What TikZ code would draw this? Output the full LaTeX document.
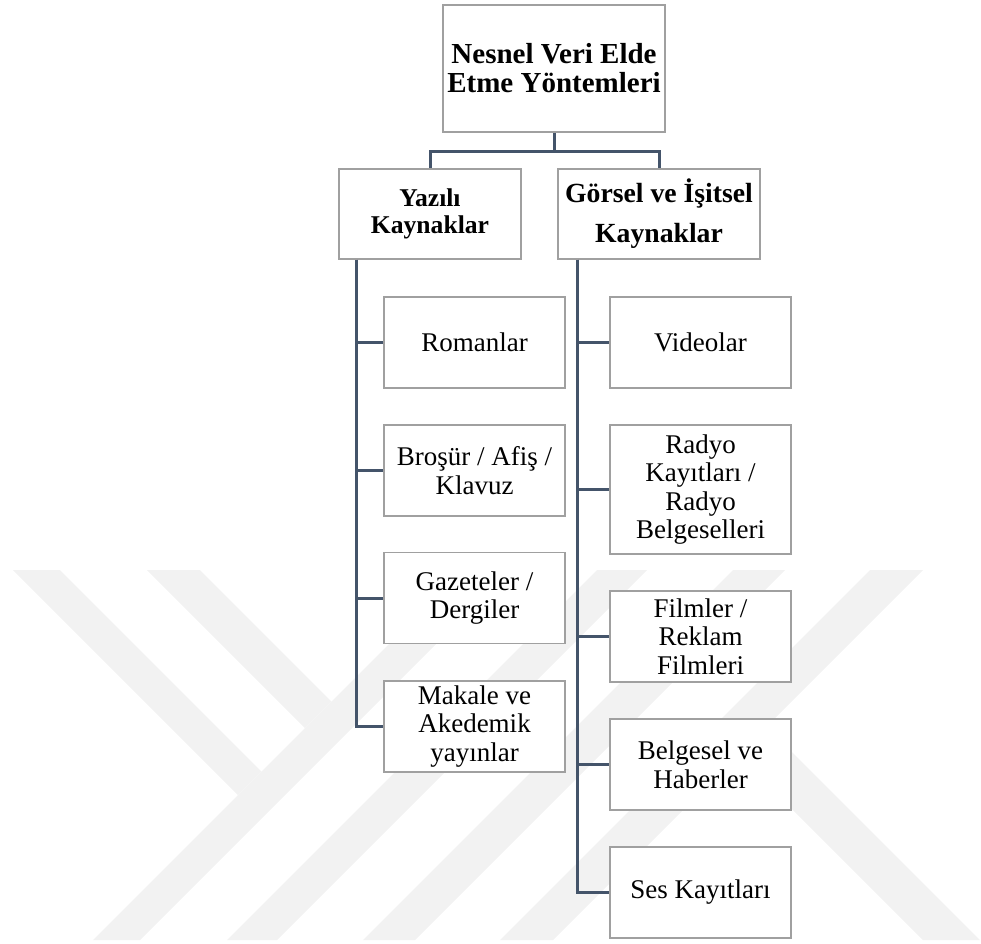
\documentclass[tikz,border=0pt]{standalone}
\usepackage{fontspec}
\setmainfont{Liberation Serif}
\definecolor{wmgray}{RGB}{242,242,242}
\definecolor{boxline}{RGB}{160,160,160}
\definecolor{connline}{RGB}{68,84,106}
\begin{document}
\begin{tikzpicture}[x=1pt,y=-1pt,
  box/.style={draw=boxline, line width=1.5pt, fill=white, inner sep=0pt, align=center,
    minimum width=181pt, minimum height=91pt, font=\fontsize{27}{28.5}\selectfont},
  conn/.style={draw=connline, line width=3pt},
  wm/.style={fill=wmgray}]
\useasboundingbox (0,0) rectangle (981,943);
% watermark
\fill[wm] (13,570) -- (60,570) -- (261.5,771.5) -- (238,795) -- cycle;
\fill[wm] (147,570) -- (200,570) -- (331.5,701.5) -- (305,728) -- cycle;
\fill[wm] (93,940) -- (140,940) -- (510,570) -- (463,570) -- cycle;
\fill[wm] (227,940) -- (277,940) -- (647,570) -- (597,570) -- cycle;
\fill[wm] (363,940) -- (415,940) -- (785,570) -- (733,570) -- cycle;
\fill[wm] (500,940) -- (553,940) -- (923,570) -- (870,570) -- cycle;
\fill[wm] (738,755) -- (766.5,726.5) -- (980,940) -- (923,940) -- cycle;
% nodes
\node[box, minimum width=222pt, minimum height=127pt,
  font=\bfseries\fontsize{29}{29}\selectfont] (top) at (554,68.5) {Nesnel Veri Elde\\Etme Yöntemleri};
\node[box, minimum width=182pt, minimum height=90pt,
  font=\bfseries\fontsize{25.6}{27.3}\selectfont] (yaz) at (430,214) {Yazılı\\Kaynaklar};
\node[box, minimum width=202pt, minimum height=90pt,
  font=\bfseries\fontsize{27.7}{40}\selectfont] (gor) at (659,214) {Görsel ve İşitsel\\Kaynaklar};
\node[box] (rom) at (474.5,342.5) {Romanlar};
\node[box] (bro) at (474.5,470.5) {Broşür / Afiş /\\Klavuz};
\node[box] (gaz) at (474.5,598) {Gazeteler /\\Dergiler};
\node[box] (mak) at (474.5,726.5) {Makale ve\\Akedemik\\yayınlar};
\node[box] (vid) at (700.5,342.5) {Videolar};
\node[box, minimum height=129pt] (rad) at (700.5,489.5) {Radyo\\Kayıtları /\\Radyo\\Belgeselleri};
\node[box] (fil) at (700.5,636.5) {Filmler /\\Reklam\\Filmleri};
\node[box] (bel) at (700.5,764.5) {Belgesel ve\\Haberler};
\node[box] (ses) at (700.5,892.5) {Ses Kayıtları};
% connectors
\coordinate (tj) at (554,151);
\draw[conn] (top.south) -- (tj);
\draw[conn] (tj) -| (yaz.north);
\draw[conn] (tj) -| (gor.north);
\foreach \c in {rom,bro,gaz,mak}
  \draw[conn] ([xshift=18pt]yaz.south west) |- (\c.west);
\foreach \c in {vid,rad,fil,bel,ses}
  \draw[conn] ([xshift=20pt]gor.south west) |- (\c.west);
\end{tikzpicture}
\end{document}
